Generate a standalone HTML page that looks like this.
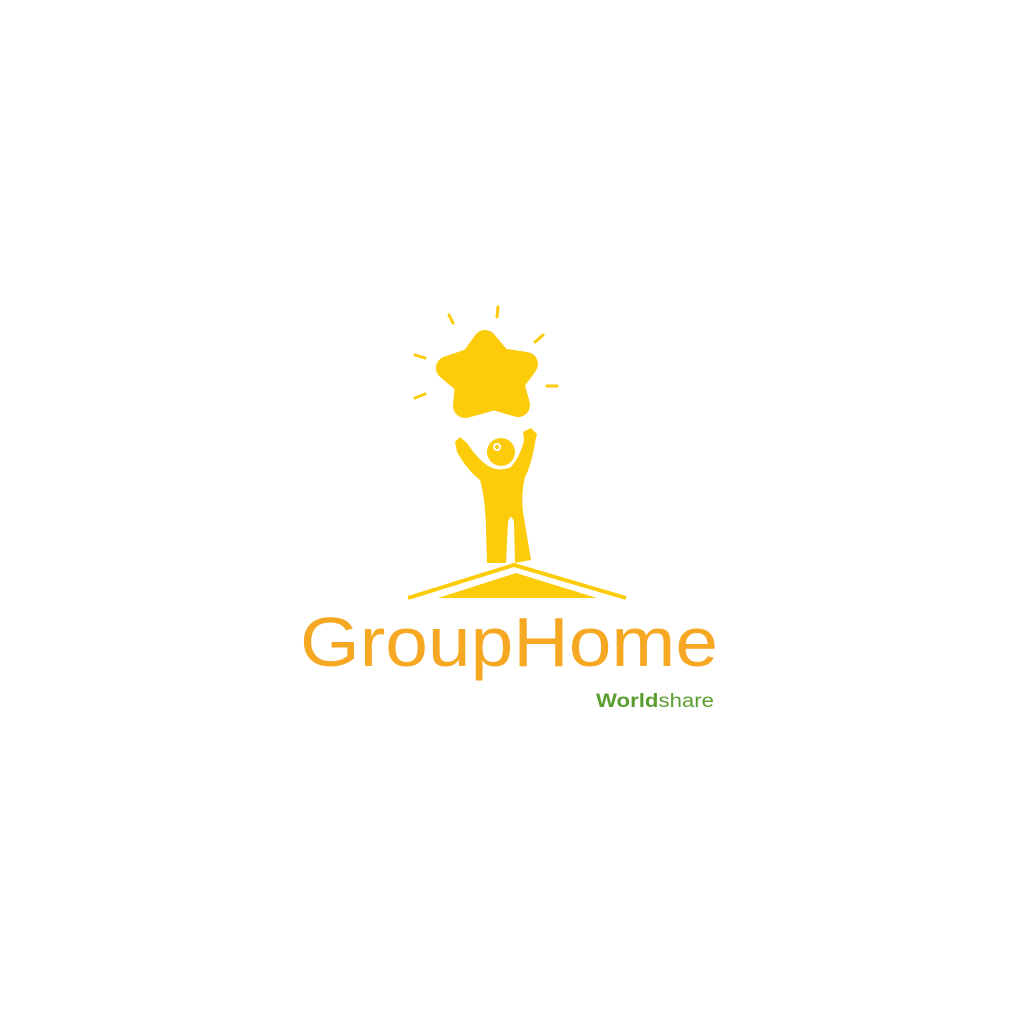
<!DOCTYPE html>
<html><head><meta charset="utf-8"><style>
html,body{margin:0;padding:0;background:#fff;}
svg{display:block;}
</style></head><body>
<svg width="1024" height="1024" viewBox="0 0 1024 1024">
<rect width="1024" height="1024" fill="#ffffff"/>
<g stroke="#FCCB0A" stroke-width="3" stroke-linecap="round">
<line x1="449" y1="315" x2="453" y2="323"/>
<line x1="498" y1="307" x2="497" y2="317"/>
<line x1="535" y1="342" x2="543" y2="335"/>
<line x1="415" y1="355" x2="425" y2="358"/>
<line x1="415" y1="398" x2="425" y2="394"/>
<line x1="547" y1="386" x2="557" y2="386"/>
</g>
<path fill="#FCCB0A" stroke="#FCCB0A" stroke-width="24" stroke-linejoin="round"
 d="M485,342 L500,360 L526,364 L512,383 L518,405 L494,398 L465,406 L467,384 L448,368 L472,360 Z"/>
<g fill="#FCCB0A">
<circle cx="501" cy="452" r="14"/>
<circle cx="497" cy="447" r="4" fill="#fff"/>
<circle cx="497" cy="447" r="2.2" fill="#FCCB0A"/>
<path d="M455,442 L460,437 L467,443 Q478,460 490,467 Q501,472 511,467 Q521,455 524,440 L523,432 L531,428 L537,434 L535,443 Q531,466 525,477 Q521,492 523,512 L531,560 L515,563 L514,522 Q511,512 508,522 L506,563 L487,563 L486,527 Q485,497 480,480 Q467,470 457,452 Z"/>
</g>
<g>
<polyline points="408,598 514,565 626,598" fill="none" stroke="#FCCB0A" stroke-width="4" stroke-linejoin="miter"/>
<polygon points="438,598 516,573 597,598" fill="#FCCB0A"/>
</g>
<text x="300" y="666" textLength="418" lengthAdjust="spacingAndGlyphs" font-family="Liberation Sans, sans-serif" font-size="70" fill="#F7A823">GroupHome</text>
<text x="596" y="707" textLength="118" lengthAdjust="spacingAndGlyphs" font-family="Liberation Sans, sans-serif" font-size="19" fill="#5A9E2F"><tspan font-weight="bold">World</tspan><tspan>share</tspan></text>
</svg>
</body></html>
